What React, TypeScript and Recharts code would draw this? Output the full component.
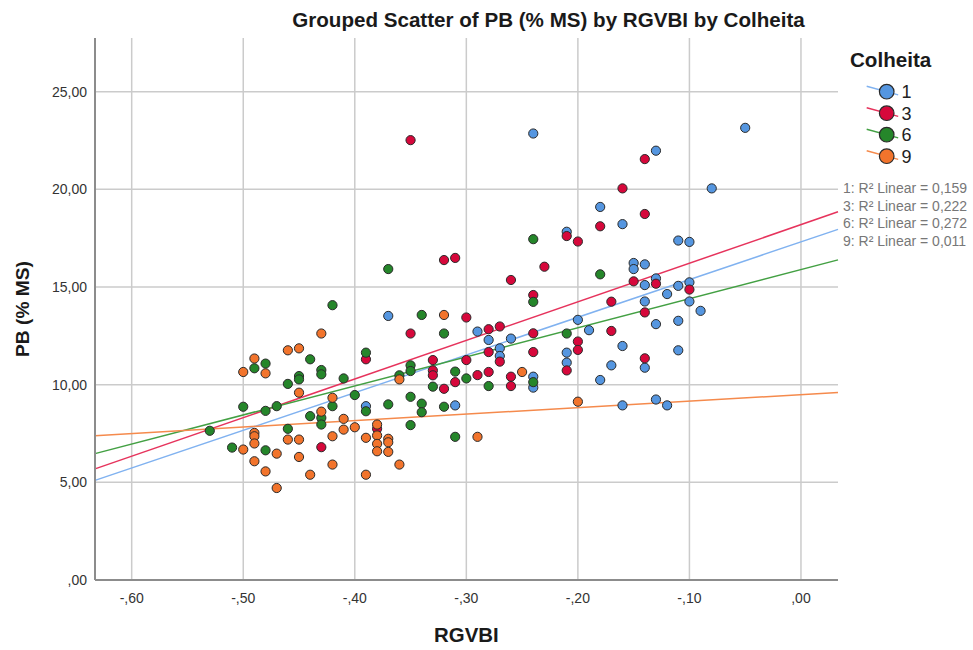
import React from 'react';
import { ScatterChart, Scatter, XAxis, YAxis, CartesianGrid, ReferenceLine } from 'recharts';

// ---------- data ----------
const xTicks = [-0.6, -0.5, -0.4, -0.3, -0.2, -0.1, 0];
const yTicks = [0, 5, 10, 15, 20, 25];
const groupNames = ['1', '3', '6', '9'];
const r2Labels = [
  '1: R\u00B2 Linear = 0,159',
  '3: R\u00B2 Linear = 0,222',
  '6: R\u00B2 Linear = 0,272',
  '9: R\u00B2 Linear = 0,011',
];

// Colheita 1 (RGVBI, PB)
const colheita1: [number, number][] = [
  [-0.24, 22.86], [-0.05, 23.15], [-0.13, 21.98], [-0.08, 20.05], [-0.18, 19.1], [-0.16, 18.22],
  [-0.21, 17.83], [-0.11, 17.38], [-0.1, 17.31], [-0.15, 16.23], [-0.15, 15.92], [-0.14, 16.16],
  [-0.13, 15.44], [-0.14, 15.1], [-0.12, 14.64], [-0.11, 15.06], [-0.1, 15.24], [-0.1, 14.26],
  [-0.14, 14.26], [-0.09, 13.78], [-0.2, 13.32], [-0.13, 13.1], [-0.11, 13.27], [-0.19, 12.79],
  [-0.29, 12.72], [-0.28, 12.29], [-0.26, 12.36], [-0.37, 13.52], [-0.27, 11.86], [-0.27, 11.47],
  [-0.21, 11.64], [-0.21, 11.13], [-0.16, 11.98], [-0.11, 11.76], [-0.14, 10.87], [-0.17, 10.99],
  [-0.18, 10.24], [-0.24, 10.41], [-0.24, 9.85], [-0.31, 8.94], [-0.39, 8.9], [-0.16, 8.94],
  [-0.13, 9.24], [-0.12, 8.94],
];

// Colheita 3
const colheita3: [number, number][] = [
  [-0.35, 22.52], [-0.14, 21.55], [-0.16, 20.05], [-0.14, 18.74], [-0.18, 18.11], [-0.21, 17.61],
  [-0.2, 17.33], [-0.23, 16.04], [-0.32, 16.38], [-0.31, 16.49], [-0.26, 15.36], [-0.15, 15.29],
  [-0.13, 15.17], [-0.1, 14.87], [-0.24, 14.59], [-0.17, 14.25], [-0.14, 13.7], [-0.3, 13.44],
  [-0.35, 12.62], [-0.28, 12.84], [-0.27, 12.98], [-0.24, 12.63], [-0.17, 12.75], [-0.28, 11.67],
  [-0.27, 11.18], [-0.24, 11.67], [-0.2, 12.21], [-0.2, 11.78], [-0.21, 10.73], [-0.14, 11.35],
  [-0.33, 11.26], [-0.3, 11.26], [-0.33, 10.73], [-0.33, 10.48], [-0.39, 11.3], [-0.31, 10.13],
  [-0.29, 10.49], [-0.28, 10.65], [-0.32, 9.79], [-0.26, 10.41], [-0.26, 9.93], [-0.38, 7.74],
  [-0.43, 6.8],
];

// Colheita 6
const colheita6: [number, number][] = [
  [-0.24, 17.45], [-0.18, 15.65], [-0.37, 15.92], [-0.24, 14.24], [-0.42, 14.07], [-0.34, 13.57],
  [-0.32, 12.62], [-0.21, 12.62], [-0.39, 11.64], [-0.44, 11.3], [-0.43, 10.75], [-0.43, 10.53],
  [-0.45, 10.44], [-0.45, 10.27], [-0.46, 10.04], [-0.41, 10.32], [-0.35, 10.99], [-0.35, 10.7],
  [-0.36, 10.48], [-0.31, 10.67], [-0.3, 10.32], [-0.28, 9.93], [-0.33, 9.9], [-0.24, 10.13],
  [-0.4, 9.47], [-0.35, 9.38], [-0.42, 8.9], [-0.39, 8.64], [-0.37, 8.99], [-0.34, 9.03],
  [-0.34, 8.59], [-0.32, 8.87], [-0.44, 8.39], [-0.43, 8.3], [-0.43, 7.96], [-0.35, 7.93],
  [-0.31, 7.33], [-0.46, 7.74], [-0.49, 10.84], [-0.48, 11.08], [-0.5, 8.87], [-0.48, 8.66],
  [-0.47, 8.9], [-0.53, 7.64], [-0.51, 6.78], [-0.48, 6.64],
];

// Colheita 9
const colheita9: [number, number][] = [
  [-0.32, 13.57], [-0.43, 12.62], [-0.46, 11.76], [-0.45, 11.86], [-0.49, 11.34], [-0.5, 10.65],
  [-0.48, 10.58], [-0.36, 10.27], [-0.25, 10.65], [-0.45, 9.59], [-0.42, 9.33], [-0.43, 8.62],
  [-0.41, 8.25], [-0.41, 7.7], [-0.4, 7.82], [-0.38, 7.96], [-0.38, 7.4], [-0.38, 6.97],
  [-0.38, 6.59], [-0.37, 7.23], [-0.37, 7.05], [-0.37, 6.56], [-0.39, 7.28], [-0.42, 7.36],
  [-0.46, 7.19], [-0.45, 7.19], [-0.45, 6.3], [-0.42, 5.91], [-0.36, 5.91], [-0.44, 5.39],
  [-0.39, 5.39], [-0.29, 7.33], [-0.2, 9.13], [-0.49, 7.53], [-0.49, 7.36], [-0.49, 6.99],
  [-0.5, 6.68], [-0.47, 6.47], [-0.49, 6.08], [-0.48, 5.56], [-0.47, 4.71],
];

// Linear fit lines: PB at left and right ends of the RGVBI axis
const fitXEnds = [-0.6329, 0.0332];
const fitStartY = [5.1, 5.69, 6.47, 7.39];
const fitEndY = [17.95, 18.85, 16.39, 9.6];

// ---------- styling ----------
const FONT = '"Liberation Sans", Arial, Helvetica, sans-serif';
const dotColors = ['#5596e0', '#d6083b', '#25862a', '#f2742c'];
const lineColors = ['#80b2f0', '#e6335c', '#43a043', '#f58a4c'];
const seriesData = [colheita1, colheita3, colheita6, colheita9];

const fmt = (v: number) => {
  const a = Math.abs(v).toFixed(2).replace('.', ',');
  const s = a.startsWith('0,') ? a.slice(1) : a;
  return (v < -1e-9 ? '-' : '') + s;
};

const makeDot = (color: string) => (p: any) => (
  <circle cx={p.cx} cy={p.cy} r={4.6} fill={color} stroke="#2a2a2a" strokeWidth={1} />
);

export default function App() {
  return (
    <div style={{ position: 'relative', width: 973, height: 650, background: '#fff', fontFamily: FONT }}>
      <style>{'body{margin:0;}'}</style>
      <ScatterChart
        width={973}
        height={650}
        margin={{ top: 38, right: 135, bottom: 20, left: 35 }}
        style={{ fontFamily: FONT }}
      >
        <CartesianGrid stroke="#cbcbcb" strokeWidth={1.5} fill="none" syncWithTicks />
        <XAxis
          type="number"
          dataKey="x"
          domain={[fitXEnds[0], fitXEnds[1]]}
          ticks={xTicks}
          allowDataOverflow
          tickFormatter={fmt}
          tickLine={false}
          tickMargin={7}
          height={50}
          axisLine={{ stroke: '#8c8c8c', strokeWidth: 2 }}
          tick={{ fill: '#333', fontSize: 14 }}
        />
        <YAxis
          type="number"
          dataKey="y"
          domain={[0, 27.75]}
          ticks={yTicks}
          allowDataOverflow
          tickFormatter={fmt}
          tickLine={false}
          width={60}
          axisLine={{ stroke: '#8c8c8c', strokeWidth: 2 }}
          tick={{ fill: '#333', fontSize: 14 }}
        />
        {seriesData.map((d, i) => (
          <Scatter
            key={groupNames[i]}
            name={groupNames[i]}
            data={d.map(([x, y]) => ({ x, y }))}
            fill={dotColors[i]}
            shape={makeDot(dotColors[i])}
            isAnimationActive={false}
          />
        ))}
        {groupNames.map((g, i) => (
          <ReferenceLine
            key={'fit' + g}
            segment={[
              { x: fitXEnds[0], y: fitStartY[i] },
              { x: fitXEnds[1], y: fitEndY[i] },
            ]}
            stroke={lineColors[i]}
            strokeWidth={1.5}
            ifOverflow="visible"
          />
        ))}
      </ScatterChart>
      <svg
        width={973}
        height={650}
        style={{ position: 'absolute', left: 0, top: 0, pointerEvents: 'none', fontFamily: FONT }}
      >
        <text x={548.5} y={27} textAnchor="middle" fontSize={20.6} fontWeight="bold" fill="#1a1a1a">
          Grouped Scatter of PB (% MS) by RGVBI by Colheita
        </text>
        <text
          transform="translate(29,309) rotate(-90)"
          textAnchor="middle"
          fontSize={19.2}
          fontWeight="bold"
          fill="#1a1a1a"
        >
          PB (% MS)
        </text>
        <text x={466.4} y={642} textAnchor="middle" fontSize={20.4} fontWeight="bold" fill="#1a1a1a">
          RGVBI
        </text>
        <text x={850} y={66.5} fontSize={20.6} fontWeight="bold" fill="#1a1a1a">
          Colheita
        </text>
        {groupNames.map((g, i) => {
          const cy = 91.7 + i * 21.5;
          const cx = 886.7;
          return (
            <g key={'leg' + g}>
              <line x1={cx - 20} y1={cy - 5.5} x2={cx + 11.5} y2={cy + 3.2} stroke={lineColors[i]} strokeWidth={1.5} />
              <circle cx={cx} cy={cy} r={7.3} fill={dotColors[i]} stroke="#2a2a2a" strokeWidth={1.2} />
              <text x={901.5} y={cy + 6.5} fontSize={18} fill="#222">
                {g}
              </text>
            </g>
          );
        })}
        {r2Labels.map((t, i) => (
          <text key={'r2' + i} x={843} y={193 + i * 17.6} fontSize={14} fill="#777">
            {t}
          </text>
        ))}
      </svg>
    </div>
  );
}
